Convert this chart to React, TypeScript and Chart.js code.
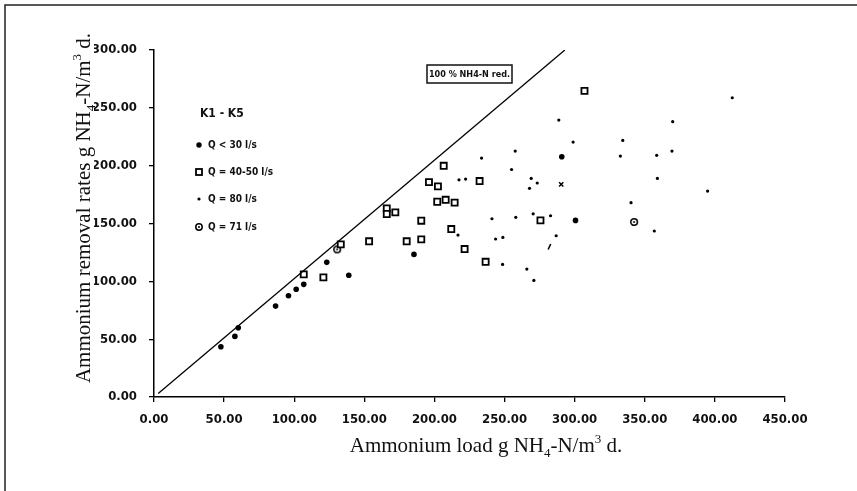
import React, { useEffect, useRef } from 'react';
import { Chart, registerables } from 'chart.js';

Chart.register(...registerables);

// ---- Data ----
const xTickValues = [0, 50, 100, 150, 200, 250, 300, 350, 400, 450];
const yTickValues = [0, 50, 100, 150, 200, 250, 300];

// 100 % NH4-N removal line
const lineX = [3, 293];
const lineY = [3, 300];

// Q < 30 l/s (filled dots)
const q30X = [47.7, 57.7, 60.1, 86.7, 95.9, 101.4, 106.8, 123.2, 138.9, 185.4, 290.8, 300.6];
const q30Y = [43.5, 52.4, 59.9, 78.6, 87.6, 93.1, 97.4, 116.4, 105.2, 123.3, 207.7, 152.7];

// Q = 40-50 l/s (open squares)
const q4050X = [106.8, 120.8, 133.2, 153.4, 166, 166, 172.1, 180.2, 190.6, 190.6, 212, 196.1, 202.5, 206.6, 232.2, 202, 208, 214.4, 221.5, 236.5, 275.6, 307];
const q4050Y = [106, 103.4, 132, 134.6, 163, 158.2, 159.6, 134.6, 152.4, 136.3, 145.2, 185.8, 182.1, 199.9, 186.7, 168.8, 170.5, 168, 127.9, 116.9, 152.7, 264.7];

// Q = 80 l/s (small dots)
const q80X = [412.4, 288.7, 369.9, 298.9, 334.3, 257.6, 233.6, 332.6, 358.5, 369.4, 255, 217.5, 222.2, 269, 273.3, 267.8, 359, 394.8, 340.2, 241, 258, 270.4, 282.8, 216.8, 243.6, 248.8, 286.8, 356.8, 248.6, 265.9, 270.9];
const q80Y = [258.7, 239.4, 238, 220.4, 221.8, 212.6, 206.6, 208.3, 208.9, 212.6, 196.7, 187.8, 188.4, 189, 185, 180.4, 189, 178, 168, 154.1, 155.3, 158.4, 156.7, 140, 136.6, 138, 139.4, 143.5, 114.6, 110.6, 100.8];

// Q = 71 l/s (circle with dot)
const q71X = [130.6, 342.4];
const q71Y = [127.6, 151.3];

// stray marks
const crossX = [290.4];
const crossY = [183.8];
const slashX = [282];
const slashY = [129.9];

const legendTitle = 'K1 - K5';
const legendLabels = ['Q < 30 l/s', 'Q = 40-50 l/s', 'Q = 80 l/s', 'Q = 71 l/s'];
const boxLabel = '100 % NH4-N red.';

const NARROW = "'Liberation Sans Narrow', 'DejaVu Sans Condensed', 'Arial Narrow', sans-serif";
const SERIF = "'Liberation Serif', 'DejaVu Serif', serif";

const pts = (xs: number[], ys: number[]) => xs.map((x, i) => ({ x, y: ys[i] }));

type Part = { t: string; s?: 'sub' | 'sup' };
const xTitleParts: Part[] = [
  { t: 'Ammonium load g NH' }, { t: '4', s: 'sub' }, { t: '-N/m' }, { t: '3', s: 'sup' }, { t: ' d.' },
];
const yTitleParts: Part[] = [
  { t: 'Ammonium removal rates g NH' }, { t: '4', s: 'sub' }, { t: '-N/m' }, { t: '3', s: 'sup' }, { t: ' d.' },
];

function drawRich(ctx: CanvasRenderingContext2D, parts: Part[], cx: number, baseY: number, size: number) {
  const fontFor = (p: Part) => `${p.s ? Math.round(size * 0.6) : size}px ${SERIF}`;
  const widths = parts.map((p) => {
    ctx.font = fontFor(p);
    return ctx.measureText(p.t).width;
  });
  const total = widths.reduce((a, b) => a + b, 0);
  let x = cx - total / 2;
  ctx.textAlign = 'left';
  ctx.textBaseline = 'alphabetic';
  parts.forEach((p, i) => {
    ctx.font = fontFor(p);
    const dy = p.s === 'sub' ? size * 0.22 : p.s === 'sup' ? -size * 0.42 : 0;
    ctx.fillText(p.t, x, baseY + dy);
    x += widths[i];
  });
}

function makeRing(): HTMLCanvasElement {
  const c = document.createElement('canvas');
  c.width = 10;
  c.height = 10;
  const g = c.getContext('2d')!;
  g.strokeStyle = '#000';
  g.lineWidth = 1.6;
  g.beginPath();
  g.arc(5, 5, 3.3, 0, Math.PI * 2);
  g.stroke();
  g.fillStyle = '#000';
  g.beginPath();
  g.arc(5, 5, 1, 0, Math.PI * 2);
  g.fill();
  return c;
}

const decoPlugin = {
  id: 'deco',
  beforeDraw(chart: any) {
    const ctx = chart.ctx as CanvasRenderingContext2D;
    ctx.save();
    ctx.fillStyle = '#fff';
    ctx.fillRect(0, 0, chart.width, chart.height);
    ctx.restore();
  },
  afterDraw(chart: any) {
    const ctx = chart.ctx as CanvasRenderingContext2D;
    ctx.save();
    // frame (top + left)
    ctx.strokeStyle = '#222';
    ctx.lineWidth = 1.5;
    ctx.beginPath();
    ctx.moveTo(5, chart.height);
    ctx.lineTo(5, 5);
    ctx.lineTo(chart.width, 5);
    ctx.stroke();

    ctx.fillStyle = '#111';
    // x title
    drawRich(ctx, xTitleParts, 486, 452, 21);
    // y title
    ctx.save();
    ctx.translate(90, 208);
    ctx.rotate(-Math.PI / 2);
    drawRich(ctx, yTitleParts, 0, 0, 21);
    ctx.restore();

    // legend
    ctx.fillStyle = '#111';
    ctx.textAlign = 'left';
    ctx.textBaseline = 'middle';
    ctx.font = `bold 12px ${NARROW}`;
    ctx.fillText(legendTitle, 200, 114);
    const rows = [145, 172, 199, 227];
    ctx.font = `bold 10px ${NARROW}`;
    legendLabels.forEach((lab, i) => {
      const y = rows[i];
      const mx = 199;
      ctx.fillStyle = '#000';
      ctx.strokeStyle = '#000';
      if (i === 0) {
        ctx.beginPath(); ctx.arc(mx, y, 2.7, 0, Math.PI * 2); ctx.fill();
      } else if (i === 1) {
        ctx.lineWidth = 1.8; ctx.fillStyle = '#fff';
        ctx.fillRect(mx - 3, y - 3, 6, 6); ctx.strokeRect(mx - 3, y - 3, 6, 6);
      } else if (i === 2) {
        ctx.beginPath(); ctx.arc(mx, y, 1.6, 0, Math.PI * 2); ctx.fill();
      } else {
        ctx.lineWidth = 1.5;
        ctx.beginPath(); ctx.arc(mx, y, 3.2, 0, Math.PI * 2); ctx.stroke();
        ctx.beginPath(); ctx.arc(mx, y, 1, 0, Math.PI * 2); ctx.fill();
      }
      ctx.fillStyle = '#111';
      ctx.fillText(lab, 208, y + 0.5);
    });

    // annotation box
    ctx.strokeStyle = '#111';
    ctx.lineWidth = 1.5;
    ctx.strokeRect(427, 65, 85, 18);
    ctx.textAlign = 'center';
    ctx.font = `bold 9px ${NARROW}`;
    ctx.fillText(boxLabel, 469.5, 74.5);
    ctx.restore();
  },
};

export default function App() {
  const ref = useRef<HTMLCanvasElement | null>(null);
  useEffect(() => {
    if (!ref.current) return;
    const ring = makeRing();
    const tickFont = { family: NARROW, size: 13, weight: 'bold' as const };
    const chart = new Chart(ref.current, {
      type: 'scatter',
      data: {
        datasets: [
          {
            type: 'line' as any,
            label: '100 % NH4-N red.',
            data: pts(lineX, lineY),
            borderColor: '#000',
            borderWidth: 1.3,
            pointRadius: 0,
            showLine: true,
            fill: false,
          } as any,
          {
            label: legendLabels[0],
            data: pts(q30X, q30Y),
            pointStyle: 'circle',
            pointRadius: 2.8,
            backgroundColor: '#000',
            borderColor: '#000',
            borderWidth: 0,
          },
          {
            label: legendLabels[1],
            data: pts(q4050X, q4050Y),
            pointStyle: 'rect',
            pointRadius: 4.3,
            backgroundColor: '#fff',
            borderColor: '#000',
            borderWidth: 1.8,
          },
          {
            label: legendLabels[2],
            data: pts(q80X, q80Y),
            pointStyle: 'circle',
            pointRadius: 1.6,
            backgroundColor: '#000',
            borderColor: '#000',
            borderWidth: 0,
          },
          {
            label: legendLabels[3],
            data: pts(q71X, q71Y),
            pointStyle: ring as any,
            pointRadius: 4,
          },
          {
            label: 'x',
            data: pts(crossX, crossY),
            pointStyle: 'crossRot',
            pointRadius: 3,
            borderColor: '#000',
            borderWidth: 1.5,
          },
          {
            label: '/',
            data: pts(slashX, slashY),
            pointStyle: 'line',
            pointRotation: 115,
            pointRadius: 3,
            borderColor: '#000',
            borderWidth: 1.6,
          } as any,
        ],
      },
      options: {
        animation: false,
        responsive: false,
        devicePixelRatio: 1,
        layout: { padding: { left: 94, right: 72, top: 50, bottom: 54 } },
        plugins: { legend: { display: false }, tooltip: { enabled: false }, title: { display: false } },
        scales: {
          x: {
            type: 'linear',
            min: 0,
            max: 450,
            afterFit: (s: any) => { s.height = 40; },
            afterBuildTicks: (s: any) => { s.ticks = xTickValues.map((v) => ({ value: v })); },
            ticks: {
              stepSize: 50,
              autoSkip: false,
              maxRotation: 0,
              padding: 10,
              color: '#111',
              font: tickFont,
              callback: (v: any) => Number(v).toFixed(2),
            },
            grid: { drawOnChartArea: false, drawTicks: true, tickLength: 5, color: '#000', lineWidth: 1.3 },
            border: { display: true, color: '#000', width: 1.5 },
            title: { display: false },
          },
          y: {
            type: 'linear',
            min: 0,
            max: 300,
            afterFit: (s: any) => { s.width = 60; },
            afterBuildTicks: (s: any) => { s.ticks = yTickValues.map((v) => ({ value: v })); },
            ticks: {
              stepSize: 50,
              autoSkip: false,
              padding: 12,
              color: '#111',
              font: tickFont,
              callback: (v: any) => Number(v).toFixed(2),
            },
            grid: { drawOnChartArea: false, drawTicks: true, tickLength: 5, color: '#000', lineWidth: 1.3 },
            border: { display: true, color: '#000', width: 1.5 },
            title: { display: false },
          },
        },
      },
      plugins: [decoPlugin],
    });
    return () => chart.destroy();
  }, []);
  return (
    <div style={{ position: 'fixed', left: 0, top: 0, width: 857, height: 491, background: '#fff' }}>
      <canvas ref={ref} width={857} height={491} style={{ display: 'block', width: 857, height: 491 }} />
    </div>
  );
}
